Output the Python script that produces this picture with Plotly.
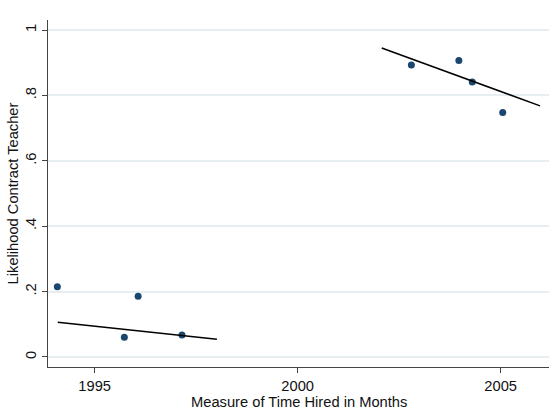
import plotly.graph_objects as go

# Scatter data (year, likelihood)
early_x = [1994.08, 1995.73, 1996.07, 1997.15]
early_y = [0.215, 0.060, 0.186, 0.067]
late_x = [2002.80, 2003.97, 2004.30, 2005.05]
late_y = [0.893, 0.907, 0.841, 0.748]

# Fitted line endpoints
fit_early_x = [1994.09, 1998.01]
fit_early_y = [0.106, 0.054]
fit_late_x = [2002.07, 2005.97]
fit_late_y = [0.945, 0.768]

y_ticks = [0, 0.2, 0.4, 0.6, 0.8, 1.0]
y_ticklabels = ["0", ".2", ".4", ".6", ".8", "1"]
x_ticks = [1995, 2000, 2005]
x_ticklabels = ["1995", "2000", "2005"]

navy = "#1a476f"
fig = go.Figure()
fig.add_trace(go.Scatter(x=early_x, y=early_y, mode="markers",
                         marker=dict(color=navy, size=7), showlegend=False))
fig.add_trace(go.Scatter(x=late_x, y=late_y, mode="markers",
                         marker=dict(color=navy, size=7), showlegend=False))
fig.add_trace(go.Scatter(x=fit_early_x, y=fit_early_y, mode="lines",
                         line=dict(color="black", width=1.5), showlegend=False))
fig.add_trace(go.Scatter(x=fit_late_x, y=fit_late_y, mode="lines",
                         line=dict(color="black", width=1.5), showlegend=False))

font = dict(family="Arial", size=14.7, color="#111111")
fig.update_layout(
    width=560, height=419,
    margin=dict(l=48, r=11, t=20, b=52),
    paper_bgcolor="white", plot_bgcolor="white",
    font=font,
    xaxis=dict(range=[1993.85, 2006.19], tickvals=x_ticks, ticktext=x_ticklabels,
               showgrid=False, zeroline=False, showline=True, linecolor="#444444",
               linewidth=1, ticks="outside", ticklen=5, tickcolor="#444444",
               automargin=False),
    yaxis=dict(range=[-0.0306, 1.0306], tickvals=y_ticks, ticktext=y_ticklabels,
               tickangle=-90, showgrid=True, gridcolor="#e6eef1", gridwidth=1.5,
               zeroline=False, showline=True, linecolor="#444444", linewidth=1,
               ticks="outside", ticklen=5, tickcolor="#444444",
               automargin=False,
               title=dict(text="Likelihood Contract Teacher", standoff=0, font=font)),
    annotations=[dict(text="Measure of Time Hired in Months", xref="paper", yref="paper",
                      x=0.5, y=0, xanchor="center", yanchor="top", yshift=-25,
                      showarrow=False, font=font)],
)
fig.write_html("out.html", config={"displayModeBar": False},
               post_script="document.body.style.margin='0';document.body.style.padding='0';")
